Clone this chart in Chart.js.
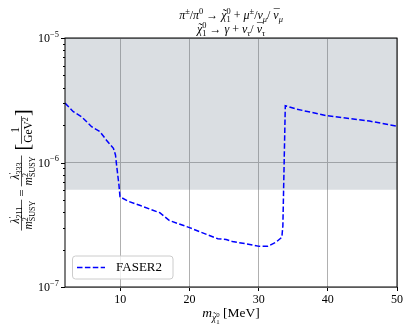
<!DOCTYPE html>
<html>
<head>
<meta charset="utf-8">
<script src="https://cdn.jsdelivr.net/npm/chart.js@4/dist/chart.umd.min.js"></script>
<style>
  body { margin: 0; background: #fff; }
  canvas { display: block; }
</style>
</head>
<body>
<canvas id="myChart" width="411" height="332"></canvas>
<script>
// neutralino mass [MeV] and FASER2 sensitivity curve
const massX = [2, 3.2, 4.4, 5.85, 7.05, 8.0, 9.0, 9.3, 9.46, 9.8, 9.95, 11.15, 12.8, 14.5, 15.7, 17.1,
  20, 21.9, 24.1, 25.3, 26.2, 28.2, 30.1, 31.3, 32.5, 33.35, 33.5, 33.85, 35.4, 37.6, 39.7, 43.1, 46, 50];
const faser2Y = [3.0e-6, 2.56e-6, 2.33e-6, 1.94e-6, 1.77e-6, 1.51e-6, 1.30e-6, 1.15e-6, 9.5e-7, 6.6e-7, 5.3e-7,
  4.88e-7, 4.53e-7, 4.18e-7, 3.95e-7, 3.42e-7, 3.0e-7, 2.72e-7, 2.44e-7, 2.41e-7, 2.32e-7, 2.22e-7, 2.12e-7,
  2.12e-7, 2.29e-7, 2.51e-7, 3.1e-7, 2.86e-6, 2.69e-6, 2.53e-6, 2.38e-6, 2.26e-6, 2.15e-6, 1.96e-6];
// lower edge of the grey excluded band
const bandLevel = 6.05e-7;
const xRange = [2, 50];
const yRange = [1e-7, 1e-5];
const xTicks = [10, 20, 30, 40, 50];
const yMajor = [-7, -6, -5];

const FONT = '"Liberation Serif", "DejaVu Serif", serif';

function isPow10(v) {
    const l = Math.log10(v);
    return Math.abs(l - Math.round(l)) < 1e-6;
}

// draws a list of text runs (italic / sub / sup / accent) and returns width
function rich(ctx, runs, x, y, size, draw) {
    let cx = x, lastStart = x, lastEnd = x;
    runs.forEach(r => {
        const s = size * (r.s || 1);
        const font = (r.it ? 'italic ' : '') + s + 'px ' + FONT;
        ctx.font = font;
        const w = ctx.measureText(r.t).width;
        const sx = r.back ? lastStart : cx;
        const by = y + (r.dy || 0) * size;
        if (draw) {
            ctx.fillText(r.t, sx, by);
            if (r.acc) {
                ctx.font = s + 'px ' + FONT;
                const aw = ctx.measureText(r.acc).width;
                ctx.fillText(r.acc, sx + w / 2 - aw / 2 + (r.it ? 0.06 * s : 0), by + (r.ady || 0) * s);
            }
        }
        if (r.back) { cx = Math.max(lastEnd, sx + w); lastEnd = cx; }
        else { lastStart = sx; lastEnd = sx + w; cx = lastEnd; }
    });
    return cx - x;
}

function richCenter(ctx, runs, cx, y, size) {
    const w = rich(ctx, runs, 0, 0, size, false);
    rich(ctx, runs, cx - w / 2, y, size, true);
}

// fraction in local coords, bar at y=0
function frac(ctx, x, num, den, size) {
    const wn = rich(ctx, num, 0, 0, size, false);
    const wd = rich(ctx, den, 0, 0, size, false);
    const w = Math.max(wn, wd) + 2;
    rich(ctx, num, x + (w - wn) / 2, -2.5, size, true);
    rich(ctx, den, x + (w - wd) / 2, size * 0.72 + 2, size, true);
    ctx.beginPath();
    ctx.moveTo(x, 0);
    ctx.lineTo(x + w, 0);
    ctx.lineWidth = 0.7;
    ctx.strokeStyle = '#000';
    ctx.stroke();
    return w;
}

const chi = {t:'χ',it:1,acc:'˜',ady:-0.08};
const nubar = {t:'ν',it:1,acc:'¯',ady:-0.05};
const title1 = [{t:'π',it:1},{t:'±',s:.7,dy:-.4},{t:'/'},{t:'π',it:1},{t:'0',s:.7,dy:-.4},{t:' → '},
    chi,{t:'0',s:.7,dy:-.4},{t:'1',s:.7,dy:.25,back:1},{t:' + '},{t:'μ',it:1},{t:'±',s:.7,dy:-.4},
    {t:'/'},{t:'ν',it:1},{t:'μ',it:1,s:.7,dy:.25},{t:'/ '},nubar,{t:'μ',it:1,s:.7,dy:.25}];
const title2 = [chi,{t:'0',s:.7,dy:-.4},{t:'1',s:.7,dy:.25,back:1},{t:' → '},{t:'γ',it:1},
    {t:' + '},{t:'ν',it:1},{t:'τ',it:1,s:.7,dy:.25},{t:'/ '},nubar,{t:'τ',it:1,s:.7,dy:.25}];
const xTitle = [{t:'m',it:1},{t:'χ',it:1,s:.7,dy:.3,acc:'˜',ady:-0.08},{t:'0',s:.5,dy:.0},{t:'1',s:.5,dy:.5,back:1},{t:' [MeV]'}];

const decorations = {
    id: 'decorations',
    afterDraw(chart) {
        const ctx = chart.ctx;
        const a = chart.chartArea;
        const ys = chart.scales.y;
        ctx.save();
        ctx.fillStyle = '#000';
        ctx.textBaseline = 'alphabetic';
        ctx.textAlign = 'left';

        // frame
        ctx.strokeStyle = '#000';
        ctx.lineWidth = 1;
        ctx.strokeRect(a.left, a.top, a.right - a.left, a.bottom - a.top);

        // y ticks, major and minor
        for (let n = -7; n <= -5; n++) {
            for (let k = 1; k <= 9; k++) {
                const v = k * Math.pow(10, n);
                if (v > yRange[1] * 1.0001) break;
                const py = Math.round(ys.getPixelForValue(v)) + 0.5;
                ctx.beginPath();
                ctx.moveTo(a.left, py);
                ctx.lineTo(a.left - (k === 1 ? 4 : 2), py);
                ctx.stroke();
            }
        }
        // y tick labels 10^n
        yMajor.forEach(n => {
            const py = ys.getPixelForValue(Math.pow(10, n));
            const runs = [{t:'10'},{t:'−' + Math.abs(n),s:.7,dy:-.45}];
            const w = rich(ctx, runs, 0, 0, 12, false);
            rich(ctx, runs, a.left - 6 - w, py + 4, 12, true);
        });

        // titles
        richCenter(ctx, title1, (a.left + a.right) / 2, 19, 12);
        richCenter(ctx, title2, (a.left + a.right) / 2, 33, 12);
        richCenter(ctx, xTitle, (a.left + a.right) / 2, 317, 13.5);

        // y label, rotated
        ctx.save();
        ctx.translate(21.5, 170);
        ctx.rotate(-Math.PI / 2);
        const fs = 11.5, bs = 20;
        const lam = (d) => [{t:'λ',it:1},{t:'′',s:.7,dy:-.35},{t:d,s:.7,dy:.3,back:1}];
        const msusy = [{t:'m',it:1},{t:'2',s:.7,dy:-.35},{t:'SUSY',s:.7,dy:.3,back:1}];
        const eq = [{t:' = '}];
        const one = [{t:'1'}];
        const gev = [{t:'GeV'},{t:'2',s:.7,dy:-.35}];
        const measure = () => {
            let w = 0;
            w += Math.max(rich(ctx, lam('211'), 0, 0, fs, false), rich(ctx, msusy, 0, 0, fs, false)) + 2;
            w += rich(ctx, eq, 0, 0, fs + 1, false);
            w += Math.max(rich(ctx, lam('333'), 0, 0, fs, false), rich(ctx, msusy, 0, 0, fs, false)) + 2;
            w += 5;
            ctx.font = bs + 'px ' + FONT;
            w += ctx.measureText('[').width * 2;
            w += Math.max(rich(ctx, one, 0, 0, fs, false), rich(ctx, gev, 0, 0, fs, false)) + 2;
            return w;
        };
        let x = -measure() / 2;
        x += frac(ctx, x, lam('211'), msusy, fs);
        x += rich(ctx, eq, x, 4, fs + 1, true);
        x += frac(ctx, x, lam('333'), msusy, fs);
        x += 5;
        ctx.font = bs + 'px ' + FONT;
        ctx.fillText('[', x, 7);
        x += ctx.measureText('[').width;
        x += frac(ctx, x, one, gev, fs);
        ctx.font = bs + 'px ' + FONT;
        ctx.fillText(']', x, 7);
        ctx.restore();

        // legend
        const lx = 72.5, ly = 256, lw = 100.5, lh = 23;
        ctx.beginPath();
        ctx.roundRect(lx, ly, lw, lh, 3);
        ctx.fillStyle = 'rgba(255,255,255,0.8)';
        ctx.fill();
        ctx.strokeStyle = '#cccccc';
        ctx.lineWidth = 1;
        ctx.stroke();
        const ds = chart.data.datasets[0];
        ctx.beginPath();
        ctx.setLineDash(ds.borderDash);
        ctx.strokeStyle = ds.borderColor;
        ctx.lineWidth = ds.borderWidth;
        ctx.moveTo(77, 267.5);
        ctx.lineTo(105, 267.5);
        ctx.stroke();
        ctx.setLineDash([]);
        ctx.fillStyle = '#000';
        ctx.font = '13px ' + FONT;
        ctx.textBaseline = 'middle';
        ctx.fillText(ds.label, 116, 268);
        ctx.restore();
    }
};

const ctx = document.getElementById('myChart');
new Chart(ctx, {
    type: 'line',
    data: {
        datasets: [{
            label: 'FASER2',
            data: massX.map((x, i) => ({ x: x, y: faser2Y[i] })),
            borderColor: '#0000ff',
            borderWidth: 1.5,
            borderDash: [5.5, 2.4],
            pointRadius: 0,
            fill: false,
            tension: 0
        }, {
            label: 'excluded',
            data: [{ x: xRange[0], y: bandLevel }, { x: xRange[1], y: bandLevel }],
            fill: 'end',
            backgroundColor: 'rgba(112,128,144,0.26)',
            borderWidth: 0,
            pointRadius: 0
        }]
    },
    options: {
        responsive: false,
        animation: false,
        layout: { padding: { left: 0, right: 14, top: 38, bottom: 0 } },
        plugins: { legend: { display: false }, tooltip: { enabled: false } },
        scales: {
            x: {
                type: 'linear',
                min: xRange[0],
                max: xRange[1],
                afterBuildTicks: s => { s.ticks = xTicks.map(v => ({ value: v })); },
                afterFit: s => { s.height = 45; },
                grid: { color: '#b0b0b0', tickColor: '#000', tickLength: 4, lineWidth: 1 },
                border: { display: false },
                ticks: { font: { family: FONT, size: 12 }, color: '#000', padding: 2, maxRotation: 0 }
            },
            y: {
                type: 'logarithmic',
                min: yRange[0],
                max: yRange[1],
                afterFit: s => { s.width = 65; },
                grid: {
                    color: c => (c.tick && isPow10(c.tick.value)) ? '#b0b0b0' : 'rgba(0,0,0,0)',
                    drawTicks: false
                },
                border: { display: false },
                ticks: { display: false }
            }
        }
    },
    plugins: [decorations]
});
</script>
</body>
</html>
